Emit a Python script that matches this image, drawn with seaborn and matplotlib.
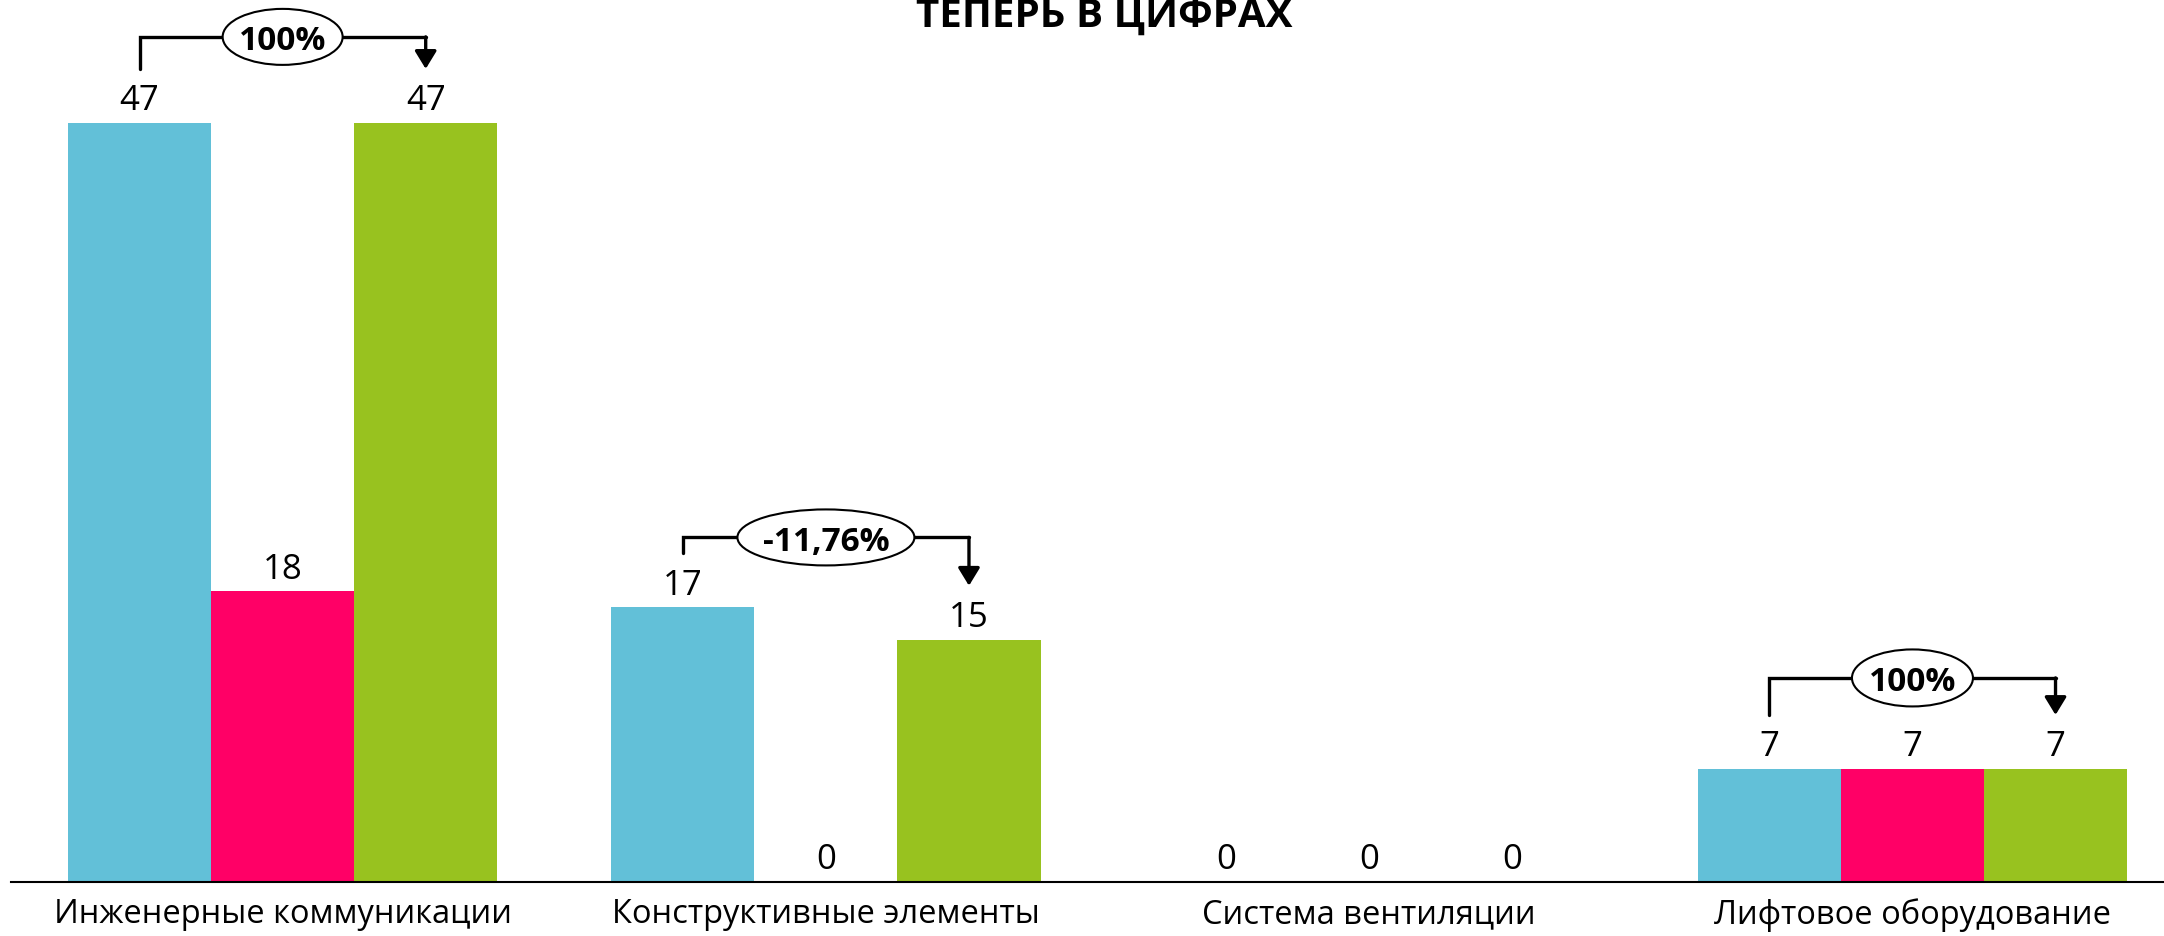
import matplotlib
matplotlib.use("Agg")
import matplotlib.pyplot as plt
from matplotlib.patches import Ellipse
import pandas as pd
import seaborn as sns

# data
categories = ["Инженерные коммуникации", "Конструктивные элементы",
              "Система вентиляции", "Лифтовое оборудование"]
series = ["Ряд 1", "Ряд 2", "Ряд 3"]
values_1 = [47, 17, 0, 7]
values_2 = [18, 0, 0, 7]
values_3 = [47, 15, 0, 7]
colors = ["#62C0D8", "#FF0066", "#98C21F"]

# change brackets (blue -> green) over some groups
bracket_groups = [0, 1, 3]
bracket_labels = ["100%", "-11,76%", "100%"]

title = "ТЕПЕРЬ В ЦИФРАХ"

W, H, DPI = 2164, 937, 100

rows = []
for s, vals in zip(series, [values_1, values_2, values_3]):
    for c, v in zip(categories, vals):
        rows.append({"category": c, "series": s, "value": v})
df = pd.DataFrame(rows)

sns.set_theme(style="white")
plt.rcParams['font.family'] = ['Open Sans', 'DejaVu Sans']

fig = plt.figure(figsize=(W / DPI, H / DPI), dpi=DPI)
ax = fig.add_axes([11 / W, 54 / H, (W - 11) / W, 883 / H])

sns.barplot(data=df, x="category", y="value", hue="series", order=categories,
            hue_order=series, palette=colors, saturation=1, width=0.79,
            errorbar=None, linewidth=0, legend=False, ax=ax)

ax.set_xlim(-0.5, 3.463)
ax.set_ylim(0, 54.67)
ax.set_xlabel("")
ax.set_ylabel("")
ax.set_yticks([])
for side in ["top", "left", "right"]:
    ax.spines[side].set_visible(False)
ax.spines["bottom"].set_color("black")
ax.spines["bottom"].set_linewidth(1.5)
ax.tick_params(axis="x", length=0, pad=11, labelsize=23.5, colors="black")

for cont in ax.containers:
    ax.bar_label(cont, labels=[f"{int(b.get_height())}" for b in cont],
                 padding=4, fontsize=25, color="black")

# pixel scale of data units
x0, y0 = ax.transData.transform((0, 0))
x1, y1 = ax.transData.transform((1, 1))
px_x = x1 - x0
px_y = y1 - y0

start_px = 54
hline_px = [32, 16, 37]
ell_w = [120, 177, 121]
ell_h = [56, 56, 57]

for k, (g, lab) in enumerate(zip(bracket_groups, bracket_labels)):
    left = ax.containers[0][g]
    right = ax.containers[2][g]
    xl = left.get_x() + left.get_width() / 2
    xr = right.get_x() + right.get_width() / 2
    yl = left.get_height() + start_px / px_y
    yr = right.get_height() + start_px / px_y
    yh = max(yl, yr) + hline_px[k] / px_y
    ax.plot([xl, xl, xr], [yl, yh, yh], color="black", lw=2.4,
            solid_joinstyle="miter", clip_on=False, zorder=4)
    ax.annotate("", xy=(xr, yr), xytext=(xr, yh),
                arrowprops=dict(arrowstyle="-|>,head_length=0.9,head_width=0.55",
                                mutation_scale=12, lw=2.4, color="black",
                                shrinkA=0, shrinkB=0),
                annotation_clip=False, zorder=4)
    xc = (xl + xr) / 2
    ax.add_patch(Ellipse((xc, yh), ell_w[k] / px_x, ell_h[k] / px_y,
                         facecolor="white", edgecolor="black", lw=1.5,
                         clip_on=False, zorder=5))
    ax.text(xc, yh, lab, ha="center", va="center_baseline", fontsize=24,
            fontweight="bold", color="black", zorder=6)

fig.text(1104 / W, 1 - 27 / H, title, ha="center", va="baseline",
         fontsize=29, fontweight="bold", color="black")

fig.savefig("out.png", dpi=DPI)
